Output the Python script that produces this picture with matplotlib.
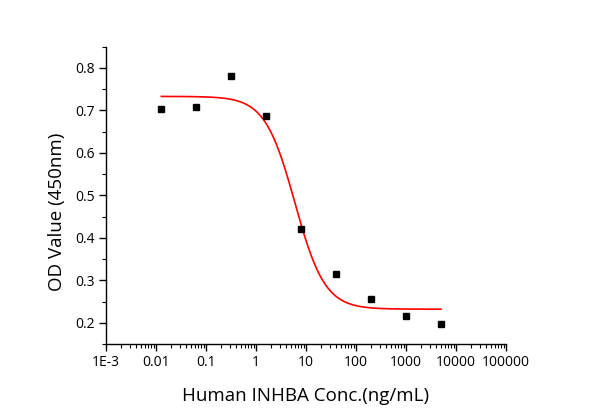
import numpy as np
import matplotlib
matplotlib.use("Agg")
import matplotlib.pyplot as plt
from matplotlib.ticker import FixedLocator, FixedFormatter, MultipleLocator, LogLocator, NullFormatter

plt.rcParams['font.family'] = ['Open Sans', 'DejaVu Sans']

# measured points
conc = [0.0128, 0.064, 0.32, 1.6, 8, 40, 200, 1000, 5000]
od = [0.704, 0.707, 0.780, 0.686, 0.420, 0.315, 0.255, 0.215, 0.198]

# logistic fit parameters
fit_top = 0.733
fit_bottom = 0.232
fit_ec50 = 6.0
fit_hill = 1.45

xticks = [1e-3, 1e-2, 1e-1, 1, 10, 100, 1000, 10000, 100000]
xticklabels = ["1E-3", "0.01", "0.1", "1", "10", "100", "1000", "10000", "100000"]

fig = plt.figure(figsize=(5.9, 4.12), dpi=100)
ax = fig.add_axes([106/590, 1-344/412, 400/590, (344-46.7)/412])

xs = np.logspace(np.log10(conc[0]), np.log10(conc[-1]), 300)
ys = fit_bottom + (fit_top - fit_bottom) / (1 + (xs / fit_ec50) ** fit_hill)
ax.plot(xs, ys, color="#ff0000", lw=1.2, zorder=2)
ax.plot(conc, od, "s", color="black", ms=5, zorder=3)

ax.set_xscale("log")
ax.set_xlim(1e-3, 1e5)
ax.set_ylim(0.15, 0.85)
ax.xaxis.set_major_locator(FixedLocator(xticks))
ax.xaxis.set_major_formatter(FixedFormatter(xticklabels))
ax.xaxis.set_minor_locator(LogLocator(base=10, subs=np.arange(2, 10), numticks=20))
ax.xaxis.set_minor_formatter(NullFormatter())
ax.yaxis.set_major_locator(FixedLocator([0.2, 0.3, 0.4, 0.5, 0.6, 0.7, 0.8]))
ax.yaxis.set_minor_locator(MultipleLocator(0.05))

for s in ["top", "right"]:
    ax.spines[s].set_visible(False)
for s in ["left", "bottom"]:
    ax.spines[s].set_linewidth(1.0)

ax.tick_params(which="major", direction="out", length=5, width=1, labelsize=10, pad=3)
ax.tick_params(which="minor", direction="out", length=3, width=0.8)
ax.tick_params(axis="x", pad=3)

ax.set_xlabel("Human INHBA Conc.(ng/mL)", fontsize=13.5, labelpad=12)
ax.set_ylabel("OD Value (450nm)", fontsize=13.5, labelpad=12)
ax.yaxis.set_label_coords(-0.1, (344 - 212) / 297.3)

fig.savefig("out.png", dpi=100)
